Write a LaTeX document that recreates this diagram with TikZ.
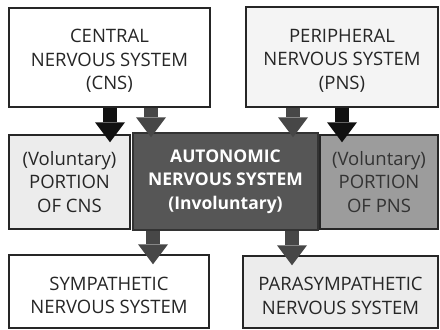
\documentclass[tikz,border=0pt]{standalone}
\usepackage{fontspec}
\setmainfont{Open Sans}
\usetikzlibrary{arrows.meta}
\definecolor{darkbox}{HTML}{565656}
\definecolor{midbox}{HTML}{9C9C9C}
\definecolor{lightbox}{HTML}{ECECEC}
\definecolor{paperbox}{HTML}{F4F4F4}
\definecolor{grayarr}{HTML}{474747}
\definecolor{blackarr}{HTML}{111111}
\tikzset{
  box/.style={draw=black!85, line width=1.4pt, inner sep=0pt},
  lbl/.style={align=center, inner sep=0pt, font=\fontsize{18.5}{23.5}\selectfont, text=black!85},
  bigarrow/.style={line width=14pt, -{Triangle[length=20pt,width=30pt,line width=0pt]}},
}
\begin{document}
\begin{tikzpicture}[x=1pt,y=1pt]
\useasboundingbox (0,0) rectangle (440,-330);
\node[box, fill=white, minimum width=201pt, minimum height=99pt] (cns) at (109.5,-57.5) {};
\node[lbl] (cnst) at ([yshift=-3.5pt]cns.center) {CENTRAL\\NERVOUS SYSTEM\\(CNS)};
\node[box, fill=paperbox, minimum width=192pt, minimum height=100pt] (pns) at (342,-57) {};
\node[lbl] (pnst) at ([yshift=-3.5pt]pns.center) {PERIPHERAL\\NERVOUS SYSTEM\\(PNS)};
\node[box, fill=lightbox, minimum width=121pt, minimum height=94pt] (volc) at (69.5,-182) {};
\node[lbl] (volct) at (volc.center) {(Voluntary)\\PORTION\\OF CNS};
\node[box, fill=darkbox, draw=black!80, minimum width=185pt, minimum height=97pt] (ans) at (225.5,-181.5) {};
\node[lbl, text=white, font=\fontsize{17.5}{23.5}\selectfont\bfseries] (anst) at (ans.center)
  {AUTONOMIC\\NERVOUS SYSTEM\\(Involuntary)};
\node[box, fill=midbox, minimum width=118pt, minimum height=94pt] (volp) at (379,-182) {};
\node[lbl, text=black!80] (volpt) at (volp.center) {(Voluntary)\\PORTION\\OF PNS};
\node[box, fill=white, minimum width=200pt, minimum height=73pt] (sym) at (109,-291.5) {};
\node[lbl] (symt) at ([yshift=-4pt]sym.center) {SYMPATHETIC\\NERVOUS SYSTEM};
\node[box, fill=lightbox, minimum width=195pt, minimum height=72pt] (para) at (340.5,-292) {};
\node[lbl] (parat) at ([yshift=-4pt]para.center) {PARASYMPATHETIC\\NERVOUS SYSTEM};
\coordinate (xa) at (110,0);
\coordinate (xb) at (151,0);
\coordinate (xc) at (293,0);
\coordinate (xd) at (342,0);
\coordinate (xe) at (153,0);
\coordinate (xf) at (292,0);
\draw[bigarrow, blackarr] (cns.south -| xa) -- ([yshift=-8pt]volc.north -| xa);
\draw[bigarrow, grayarr] (cns.south -| xb) -- ([yshift=-5pt]ans.north -| xb);
\draw[bigarrow, grayarr] (pns.south -| xc) -- ([yshift=-5pt]ans.north -| xc);
\draw[bigarrow, blackarr] (pns.south -| xd) -- ([yshift=-8pt]volp.north -| xd);
\draw[bigarrow, grayarr] (ans.south -| xe) -- ([yshift=-10pt]sym.north -| xe);
\draw[bigarrow, grayarr] (ans.south -| xf) -- ([yshift=-10pt]para.north -| xf);
\end{tikzpicture}
\end{document}
